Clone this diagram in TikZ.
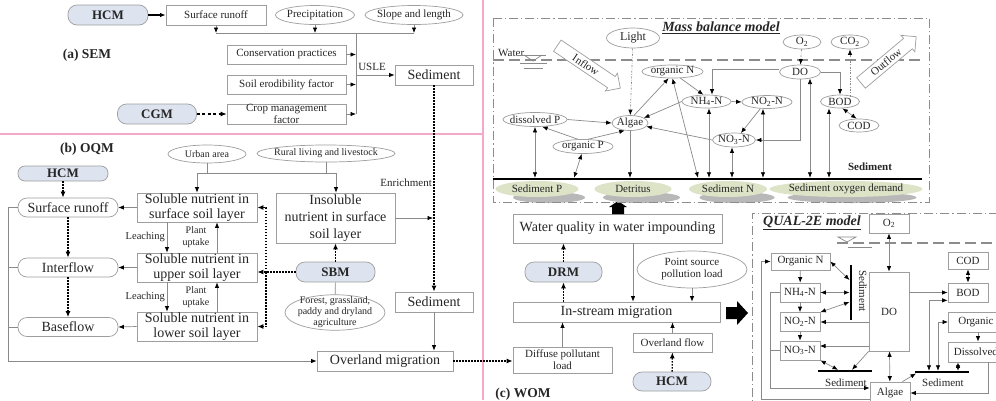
\documentclass[tikz,border=0pt]{standalone}
\usepackage{fontspec}
\setmainfont{Liberation Serif}
\usetikzlibrary{arrows.meta,shapes.geometric,shapes.arrows,calc}
\definecolor{pinkc}{HTML}{F4A9CB}
\definecolor{pillc}{HTML}{DDE3EF}
\definecolor{linec}{HTML}{8A8A8A}
\definecolor{bordc}{HTML}{9E9E9E}
\definecolor{textc}{HTML}{262626}
\definecolor{sedg}{HTML}{DDE3C6}
\definecolor{shdc}{HTML}{B8B8B8}
\definecolor{dashc}{HTML}{8C8C8C}
\newcommand{\fsz}[2]{\fontsize{#1}{#2}\selectfont}
\tikzset{mtip/.tip={Latex[length=5.5pt,width=4.4pt,color=black]}}
\begin{document}
\begin{tikzpicture}[x=1pt,y=-1pt,
  every node/.style={text=textc,inner sep=0pt},
  box/.style={draw=bordc,fill=white,line width=0.7pt,align=center,font=\fsz{11}{12}},
  bbox/.style={box,font=\fsz{14}{14.5}},
  rbox/.style={bbox,rounded corners=9pt},
  pill/.style={draw=bordc,fill=pillc,line width=0.7pt,rounded corners=9pt,font=\bfseries\fsz{13}{14}},
  ell/.style={ellipse,draw=bordc,fill=white,line width=0.7pt,align=center,inner sep=-3pt,font=\fsz{11}{12}},
  sed/.style={ellipse,fill=sedg,inner sep=-3pt,font=\fsz{11}{12}},
  shd/.style={ellipse,fill=shdc,inner sep=0pt},
  ar/.style={draw=linec,line width=0.7pt,-mtip},
  dar/.style={draw=linec,line width=0.7pt,mtip-mtip},
  pln/.style={draw=linec,line width=0.7pt},
  dotar/.style={draw=black,line width=1.3pt,dash pattern=on 1.5pt off 1.5pt,-{Latex[length=6pt,width=5pt]}},
  ddar/.style={draw=linec,line width=0.7pt,dash pattern=on 2pt off 1.5pt on 0.6pt off 1.5pt,-mtip},
  mbframe/.style={draw=dashc,line width=1pt,dash pattern=on 9pt off 3pt on 1.2pt off 3pt},
  wline/.style={draw=dashc,line width=1.8pt,dash pattern=on 11pt off 5pt},
  sbar/.style={draw=black,line width=2.6pt},
  lab/.style={font=\bfseries\fsz{13.5}{14}},
  ttl/.style={font=\bfseries\itshape\fsz{14}{15}},
  harrow/.style={single arrow,draw=bordc,fill=white,line width=0.7pt,single arrow head extend=4pt,inner ysep=2.5pt,inner xsep=3pt,font=\fsz{11}{12}},
]
\useasboundingbox (0,0) rectangle (996,400);
\clip (0,0) rectangle (996,400);
\fill[white] (0,0) rectangle (996,400);
% pink separators
\draw[pinkc,line width=1.6pt] (0,134) -- (483,134);
\draw[pinkc,line width=1.6pt] (483,0) -- (483,400);

% ================= (a) SEM
\node[pill,minimum width=80pt,minimum height=20pt] (hcma) at (108,15) {HCM};
\node[box,minimum width=100pt,minimum height=20pt] (srfa) at (216,15) {Surface runoff};
\node[ell,minimum width=79pt,minimum height=19pt] (prec) at (315,15) {Precipitation};
\node[ell,minimum width=98pt,minimum height=19pt] (slope) at (414,15) {Slope and length};
\node[box,minimum width=119pt,minimum height=19pt] (cons) at (286.5,54.5) {Conservation practices};
\node[box,minimum width=119pt,minimum height=19pt] (soil) at (286.5,84.5) {Soil erodibility factor};
\node[box,minimum width=119pt,minimum height=20pt,font=\fsz{11}{11.5}] (crop) at (286.5,114) {Crop management\\factor};
\node[pill,minimum width=79pt,minimum height=20pt] (cgm) at (157,114) {CGM};
\node[lab] (laba) at (87,55) {(a) SEM};
\node[bbox,minimum width=78pt,minimum height=20pt] (seda) at (434,75) {Sediment};
\node[font=\fsz{11}{12}] (usle) at (372,67) {USLE};
\coordinate (ba) at (216,33);
\coordinate (bb) at (315,33);
\coordinate (bc) at (414,33);
\coordinate (vb) at (356,114);
\draw[ar,draw=black,line width=1.1pt] (hcma) -- (srfa);
\draw[black,line width=1.1pt,dash pattern=on 3pt off 2.5pt,-{Latex[length=6pt,width=5pt]}] (cgm) -- (crop);
\draw[ar] (srfa) -- (ba);
\draw[ar] (prec) -- (bb);
\draw[ar] (slope) -- (bc);
\draw[pln] (ba) -- (bc);
\draw[pln] (ba -| vb) -- (vb);
\draw[ar] (cons.east) -- (cons.east -| vb);
\draw[ar] (soil.east) -- (soil.east -| vb);
\draw[ar] (crop.east) -- (crop.east -| vb);
\draw[ar] (seda.west -| vb) -- (seda.west);

% ================= (b) OQM
\node[lab] (labb) at (87,149) {(b) OQM};
\node[pill,rounded corners=7pt,minimum width=90pt,minimum height=15pt] (hcmb) at (63,173.5) {HCM};
\node[rbox,minimum width=100pt,minimum height=19pt] (srfb) at (68,207.5) {Surface runoff};
\node[rbox,minimum width=100pt,minimum height=19pt] (intf) at (68,267.5) {Interflow};
\node[rbox,minimum width=100pt,minimum height=19pt] (basf) at (68,327) {Baseflow};
\node[bbox,minimum width=120pt,minimum height=29pt] (sols) at (197,207.5) {Soluble nutrient in\\surface soil layer};
\node[bbox,minimum width=120pt,minimum height=29pt] (solu) at (197,267.5) {Soluble nutrient in\\upper soil layer};
\node[bbox,minimum width=120pt,minimum height=29pt] (soll) at (197,326.5) {Soluble nutrient in\\lower soil layer};
\node[ell,minimum width=78pt,minimum height=18pt,font=\fsz{10}{11}] (urban) at (207,154) {Urban area};
\node[ell,minimum width=138pt,minimum height=17pt,font=\fsz{10}{11}] (rural) at (326,153.5) {Rural living and livestock};
\node[bbox,minimum width=119pt,minimum height=50pt,font=\fsz{14}{17}] (insol) at (335.5,218) {Insoluble\\nutrient in surface\\soil layer};
\node[pill,minimum width=79pt,minimum height=20pt] (sbm) at (335.5,272) {SBM};
\node[ell,minimum width=100pt,minimum height=35pt,font=\fsz{10}{11}] (forest) at (335,312.5) {Forest, grassland,\\paddy and dryland\\agriculture};
\node[bbox,minimum width=78pt,minimum height=20pt] (sedb) at (434,302) {Sediment};
\node[bbox,minimum width=136pt,minimum height=20pt] (ovl) at (385,361) {Overland migration};
\node[anchor=east,font=\fsz{10.5}{11}] (lch1) at (165,237) {Leaching};
\node[align=center,font=\fsz{10}{12}] (pu1) at (196,237) {Plant\\uptake};
\node[anchor=east,font=\fsz{10.5}{11}] (lch2) at (165,297) {Leaching};
\node[align=center,font=\fsz{10}{12}] (pu2) at (196,297) {Plant\\uptake};
\node[anchor=east,font=\fsz{11}{12}] (enr) at (432,183) {Enrichment};

\draw[dotar] (hcmb) -- (hcmb |- srfb.north);
\draw[dotar] (srfb) -- (intf);
\draw[dotar] (intf) -- (basf);
\draw[ar] (sols.west) -- (srfb.east);
\draw[ar] (solu.west) -- (intf.east);
\draw[ar] (soll.west) -- (basf.east);
\draw[ar] ([xshift=-30pt]sols.south) -- ([xshift=-30pt]solu.north);
\draw[ar] ([xshift=20pt]solu.north) -- ([xshift=20pt]sols.south);
\draw[ar] ([xshift=-30pt]solu.south) -- ([xshift=-30pt]soll.north);
\draw[ar] ([xshift=20pt]soll.north) -- ([xshift=20pt]solu.south);
\coordinate (ub) at (197,173);
\coordinate (ue) at (336,173);
\draw[pln] (urban) -- (urban |- ub);
\draw[pln] (rural) -- (rural |- ub);
\draw[pln] (ub) -- (ue);
\draw[ar] (ub) -- (sols.north);
\draw[ar] (ue) -- (ue |- insol.north);
\coordinate (enrc) at (433,218);
\draw[ar] (insol.east) -- (enrc);
\draw[dotar] (sbm) -- (sbm |- insol.south);
\coordinate (sv) at (266,272);
\draw[dotar] (sbm.west) -- (sbm.west -| solu.east);
\draw[dotar] (sv) |- (sols.east);
\draw[dotar] (sv) |- (soll.east);
\draw[pln] (sbm) -- (forest);
\draw[dotar] (seda) -- (sedb);
\draw[ar] (sedb) -- (sedb |- ovl.north);
\coordinate (lt) at (8,207.5);
\coordinate (lb) at (8,361);
\draw[ar] (srfb.west) -- (lt) -- (lb) -- (ovl.west);
\draw[pln] (intf.west) -- (intf.west -| lt);
\draw[pln] (basf.west) -- (basf.west -| lt);

% ================= (c) WOM
\node[box,minimum width=99pt,minimum height=26pt] (diff) at (562.5,360) {Diffuse pollutant\\load};
\node[bbox,minimum width=209pt,minimum height=29pt] (wq) at (617.5,228.5) {Water quality in water impounding};
\node[pill,minimum width=77pt,minimum height=20pt] (drm) at (563.5,272) {DRM};
\node[bbox,minimum width=207pt,minimum height=20pt] (ins) at (616.5,312) {In-stream migration};
\node[ell,minimum width=110pt,minimum height=37pt] (pnt) at (692,269.5) {Point source\\pollution load};
\node[box,minimum width=79pt,minimum height=19pt] (ovf) at (672.5,342.5) {Overland flow};
\node[pill,minimum width=78pt,minimum height=19pt] (hcmc) at (672,381.5) {HCM};
\node[lab] (labc) at (523,394) {(c) WOM};
\draw[dotar] (ovl.east) -- (ovl.east -| diff.west);
\draw[dotar] (drm) -- (drm |- wq.south);
\draw[dotar] (drm |- ins.north) -- (drm);
\draw[ar] ([xshift=15.5pt]wq.south) -- ([xshift=16.5pt]ins.north);
\draw[ar] (pnt) -- (pnt |- ins.north);
\draw[ar] (diff) -- (diff |- ins.south);
\draw[ar] (ovf) -- (ovf |- ins.south);
\draw[dotar] (hcmc) -- (ovf);
\fill[black] (612,214) -- (612,207) -- (609,207) -- (618,201) -- (627,207) -- (624,207) -- (624,214) -- cycle;
\fill[black] (726,307) -- (737,307) -- (737,301) -- (748,313) -- (737,325) -- (737,319) -- (726,319) -- cycle;

% ================= Mass balance model
\draw[wline] (493,60) -- (921,60);
\node[shd,minimum width=72pt,minimum height=11pt] (sedps) at (549,197.5) {};
\node[shd,minimum width=77pt,minimum height=11pt] (detrs) at (641.5,197.5) {};
\node[shd,minimum width=75pt,minimum height=11pt] (sedns) at (737,197.5) {};
\node[shd,minimum width=129pt,minimum height=11pt] (sods) at (852,197.5) {};
\draw[mbframe] (493,18) rectangle (929,202);
\node[sed,minimum width=83pt,minimum height=16pt] (sedp) at (537,189) {Sediment P};
\node[sed,minimum width=77pt,minimum height=16pt] (detr) at (633,189) {Detritus};
\node[sed,minimum width=78pt,minimum height=16pt] (sedn) at (728,189) {Sediment N};
\node[sed,minimum width=128pt,minimum height=16pt] (sod) at (846,189) {Sediment oxygen demand};
\draw[sbar] (493,179) -- (922,179);
\node[font=\bfseries\fsz{11}{12}] (sedlab) at (870,167) {Sediment};
\node[ttl] (mbt) at (721,28) {\underline{Mass balance model}};
% water symbol
\node[font=\fsz{11}{12},anchor=south west] (wat) at (498,57) {Water};
\draw[pln] (516,55) -- (546,55);
\draw[pln] (524,55) -- (533,61) -- (542,55);
\draw[pln] (520,63) -- (547,63);
\draw[pln] (524,68) -- (543,68);
\node[harrow,minimum height=76pt,rotate=-34] (infl) at (586,65) {Inflow};
\node[harrow,minimum height=72pt,rotate=40] (outf) at (886,62) {Outflow};

\node[ell,minimum width=53pt,minimum height=20pt,font=\fsz{12}{13}] (light) at (633,38) {Light};
\node[ell,minimum width=38pt,minimum height=14pt] (o2) at (802,42) {O\textsubscript{2}};
\node[ell,minimum width=38pt,minimum height=14pt] (co2) at (850,42) {CO\textsubscript{2}};
\node[ell,minimum width=41pt,minimum height=14pt] (do) at (800,72) {DO};
\node[ell,minimum width=39pt,minimum height=13pt] (bod) at (840,101.5) {BOD};
\node[ell,minimum width=40pt,minimum height=13pt] (cod) at (859,125.5) {COD};
\node[ell,minimum width=61pt,minimum height=13pt] (orgn) at (672.5,71.5) {organic N};
\node[ell,minimum width=49pt,minimum height=13pt] (nh4) at (706.5,101.5) {NH\textsubscript{4}-N};
\node[ell,minimum width=50pt,minimum height=13pt] (no2) at (767,102) {NO\textsubscript{2}-N};
\node[ell,minimum width=43pt,minimum height=14pt] (no3) at (734,140) {NO\textsubscript{3}-N};
\node[ell,minimum width=36pt,minimum height=15pt] (alg) at (630,123) {Algae};
\node[ell,minimum width=64pt,minimum height=14pt] (dissp) at (535,119.5) {dissolved P};
\node[ell,minimum width=60pt,minimum height=14pt] (orgp) at (583,146.5) {organic P};

\coordinate (sl) at (493,177.8);
\coordinate (sop) at (574,177.8);
\coordinate (snd) at (698,177.8);
\coordinate (snh) at (709,177.8);
\coordinate (sno3) at (732,177.8);
\coordinate (sn2) at (763,177.8);
\coordinate (sdo) at (810,177.8);
\coordinate (tdo) at (810,78.5);
\coordinate (sbo) at (829,177.8);
\coordinate (bc2) at (850,96.5);
\coordinate (dn) at (712,69);
\draw[ddar] (light) -- (alg);
\draw[ar] (alg.62) -- (orgn.240);
\draw[ar] (dissp.east) -- (alg.west);
\draw[ar] (orgp.125) -- (dissp.-45);
\draw[ar] (orgp.55) -- (alg.235);
\draw[dar] (dissp.south) -- (dissp.south |- sl);
\draw[dar] (orgp.-100) -- (sop);
\draw[ar] (alg.south) -- (alg.south |- sl);
\draw[ar] (nh4.west) -- (alg.20);
\draw[ar] (no3.west) -- (alg.-12);
\draw[ar] (orgn.-40) -- (nh4.115);
\draw[ar] (do.west |- dn) -- (dn) -- (dn |- nh4.north);
\draw[ar] (nh4.east) -- (no2.west);
\draw[ar] (no2.-135) -- (no3.45);
\draw[ar] (do.south) |- (no3.east);
\draw[ar] (do.east) -| (bod.north);
\draw[ddar] (o2) -- (do);
\draw[ddar] (bc2) -- (bc2 |- co2.south);
\draw[dar] (bod.-70) -- (cod.110);
\draw[dar] (no2.south -| sn2) -- (sn2);
\draw[dar] (tdo) -- (sdo);
\draw[dar] (bod.south -| sbo) -- (sbo);
\draw[dar] (orgn.south) -- (snd);
\draw[dar] (nh4.south -| snh) -- (snh);
\draw[dar] (no3.south -| sno3) -- (sno3);

% ================= QUAL-2E model
\draw[mbframe] (998,213) -- (752,213) -- (752,402);
\node[ttl] (qt) at (812,223) {\underline{QUAL-2E model}};
\draw[wline] (837,243) -- (998,243);
\draw[pln] (838,237) -- (856,237) -- (847,242) -- cycle;
\draw[pln] (848,247) -- (872,247);
\node[box,minimum width=40pt,minimum height=19pt] (o2q) at (889,223.5) {O\textsubscript{2}};
\node[box,minimum width=59pt,minimum height=17pt] (orgnq) at (800.5,261.5) {Organic N};
\node[box,minimum width=40pt,minimum height=19pt] (nh4q) at (800,292.5) {NH\textsubscript{4}-N};
\node[box,minimum width=40pt,minimum height=19pt] (no2q) at (800,322) {NO\textsubscript{2}-N};
\node[box,minimum width=40pt,minimum height=19pt] (no3q) at (800,350.5) {NO\textsubscript{3}-N};
\node[box,minimum width=40pt,minimum height=79pt] (doq) at (889,311.5) {DO};
\node[box,minimum width=40pt,minimum height=22pt] (algq) at (890,393) {Algae};
\node[box,minimum width=40pt,minimum height=17pt] (codq) at (968,260.5) {COD};
\node[box,minimum width=40pt,minimum height=19pt] (bodq) at (968,292.5) {BOD};
\node[box,minimum width=64pt,minimum height=20pt,anchor=west] (orgpq) at (948,322) {Organic P};
\node[box,minimum width=64pt,minimum height=20pt,anchor=west] (dissq) at (948,352) {Dissolved P};
\draw[sbar] (851,265) -- (851,320);
\node[rotate=-90,font=\fsz{11}{12}] (vlab) at (863,291) {Sediment};
\draw[sbar] (818,371) -- (872,371);
\node[font=\fsz{11}{12}] (lb1) at (846,382.5) {Sediment};
\draw[sbar] (915,372) -- (969,372);
\node[font=\fsz{11}{12}] (lb2) at (943,382.5) {Sediment};

\coordinate (vs1) at (849.5,280);
\coordinate (vs2) at (849.5,292.5);
\coordinate (vs3) at (849.5,302);
\coordinate (n3r) at (820,346);
\coordinate (ls1) at (838,369.8);
\coordinate (ls2) at (852,369.8);
\coordinate (rs1) at (929,370.8);
\coordinate (rs2) at (938,370.8);
\coordinate (rs3) at (958,370.8);
\coordinate (rs4) at (916,373.5);
\coordinate (xl1) at (770,388);
\coordinate (xl2) at (761,399);
\draw[dar] (o2q) -- (doq);
\draw[ar] (orgnq) -- (nh4q);
\draw[ar] (nh4q) -- (no2q);
\draw[ar] (no2q) -- (no3q);
\draw[dar] (orgnq.east) -- (vs1);
\draw[dar] (nh4q.east) -- (vs2);
\draw[dar] (no2q.north east) -- (vs3);
\draw[ar] (doq.west |- no2q.east) -- (no2q.east);
\draw[ar] (doq.west |- n3r) -- (n3r);
\draw[dar] (no3q.south east) -- (ls1);
\draw[ar] (doq.south west) -- (ls2);
\draw[dar] (doq) -- (algq);
\draw[ar] (doq.east |- bodq.west) -- (bodq.west);
\draw[dar] (codq) -- (bodq);
\draw[dar] (rs1) |- ([yshift=2pt]bodq.south west);
\draw[dar] (rs2) |- (orgpq.west);
\draw[dar] (rs3) -- ([xshift=10pt]dissq.south west);
\draw[ar] ([xshift=30pt]orgpq.south west) -- ([xshift=30pt]dissq.north west);
\draw[ar] ([xshift=40pt]dissq.south west) |- (algq.east);
\draw[ar] ([xshift=-8pt]algq.north east) -- (rs4);
\draw[ar] (nh4q.west) -| (xl1) -- (xl1 -| algq.west);
\draw[pln] (no3q.west) -- (no3q.west -| xl1);
\draw[ar] (xl2 -| algq.west) -- (xl2) |- (orgnq.west);
\end{tikzpicture}
\end{document}
